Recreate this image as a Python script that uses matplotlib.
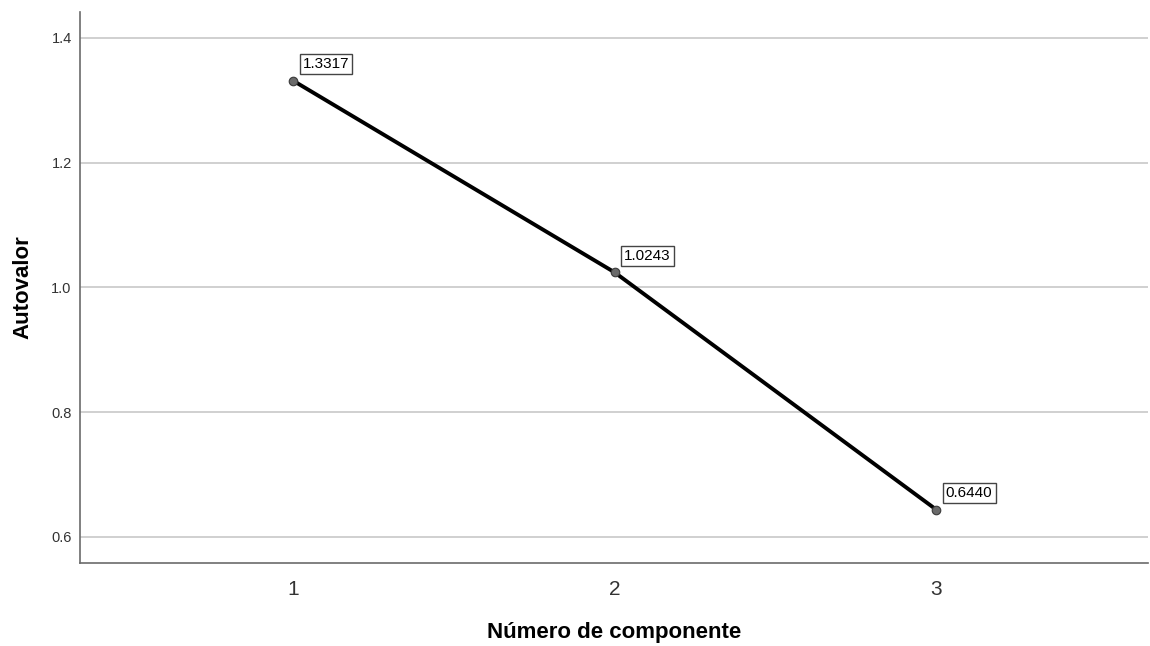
import numpy as np
import matplotlib.pyplot as plt

plt.rcParams['font.family'] = ['Liberation Sans', 'DejaVu Sans']

# Scree plot data
componentes = [1, 2, 3]
autovalores = [1.3317, 1.0243, 0.6440]
etiquetas = ["1.3317", "1.0243", "0.6440"]

fig = plt.figure(figsize=(11.5, 6.46), dpi=100)
ax = fig.add_axes([0.0696, 0.1285, 0.929, 0.853])

ax.plot(componentes, autovalores, color='black', linewidth=2.8, zorder=3)
ax.scatter(componentes, autovalores, s=38, marker='o', color='#6a6a6a',
           edgecolor='#3a3a3a', linewidth=0.8, zorder=4)

for xv, yv, lab in zip(componentes, autovalores, etiquetas):
    ax.annotate(lab, (xv, yv), xytext=(7, 7), textcoords='offset points',
                fontsize=11, color='black', ha='left', va='bottom',
                bbox=dict(boxstyle='square,pad=0.2', facecolor='white',
                          edgecolor='#444444', linewidth=1.0), zorder=5)

ax.set_xlim(0.338, 3.66)
ax.set_ylim(0.5583, 1.4417)
ax.set_xticks(componentes)
ax.set_yticks([0.6, 0.8, 1.0, 1.2, 1.4])
ax.set_yticklabels(["0.6", "0.8", "1.0", "1.2", "1.4"])
ax.tick_params(axis='both', length=0, colors='#333333')
ax.tick_params(axis='x', labelsize=15, pad=12)
ax.tick_params(axis='y', labelsize=10.5, pad=6)

ax.grid(axis='y', color='#c8c8c8', linewidth=1.2)
ax.set_axisbelow(True)
for side in ['top', 'right']:
    ax.spines[side].set_visible(False)
for side in ['left', 'bottom']:
    ax.spines[side].set_color('#6b6b6b')
    ax.spines[side].set_linewidth(1.2)

ax.set_xlabel('Número de componente', fontsize=16, fontweight='bold', labelpad=17)
ax.set_ylabel('Autovalor', fontsize=16, fontweight='bold', labelpad=13)

fig.savefig('out.png', dpi=100)
